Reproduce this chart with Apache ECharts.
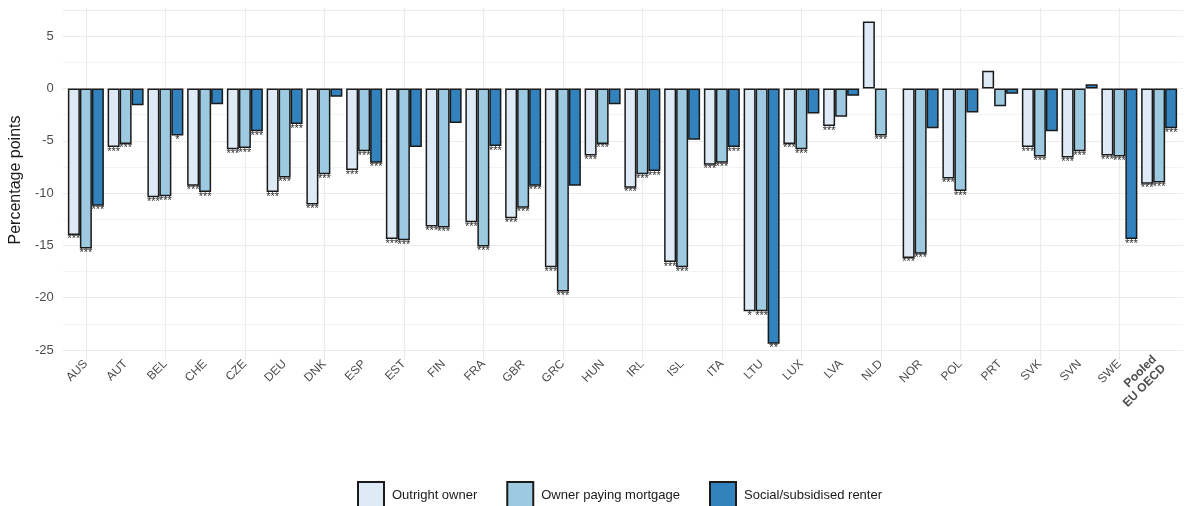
<!DOCTYPE html>
<html>
<head>
<meta charset="utf-8">
<script src="https://cdn.jsdelivr.net/npm/echarts@6/dist/echarts.min.js"></script>
<style>
  html, body { margin: 0; padding: 0; background: #ffffff; }
  #chart { width: 1198px; height: 506px; }
</style>
</head>
<body>
<div id="chart"></div>
<script>
// Countries (ISO3) plus the pooled EU/OECD estimate
const categories = ['AUS','AUT','BEL','CHE','CZE','DEU','DNK','ESP','EST','FIN','FRA','GBR','GRC','HUN','IRL','ISL','ITA','LTU','LUX','LVA','NLD','NOR','POL','PRT','SVK','SVN','SWE','Pooled\nEU OECD'];

// Difference in percentage points by housing tenure
const outrightOwner = [-14.0,-5.6,-10.4,-9.3,-5.8,-9.9,-11.1,-7.8,-14.4,-13.2,-12.8,-12.4,-17.1,-6.4,-9.5,-16.6,-7.3,-21.3,-5.3,-3.6,6.4,-16.2,-8.6,1.7,-5.6,-6.6,-6.4,-9.1];
const ownerMortgage = [-15.3,-5.3,-10.3,-9.9,-5.7,-8.5,-8.2,-6.0,-14.5,-13.3,-15.1,-11.4,-19.4,-5.3,-8.2,-17.1,-7.1,-21.3,-5.8,-2.7,-4.5,-15.8,-9.8,-1.7,-6.5,-6.0,-6.5,-9.0];
const socialRenter  = [-11.2,-1.6,-4.5,-1.5,-4.1,-3.4,-0.8,-7.1,-5.6,-3.3,-5.5,-9.3,-9.3,-1.5,-7.9,-4.9,-5.6,-24.4,-2.4,-0.7,null,-3.8,-2.3,-0.5,-4.1,0.4,-14.4,-3.8];

// Significance markers
const starsOutright = ['***','***','***','***','***','***','***','***','***','***','***','***','***','***','***','***','***','*','***','***','','***','***','','***','***','***','***'];
const starsMortgage = ['***','***','***','***','***','***','***','***','***','***','***','***','***','***','***','***','***','***','***','','***','***','***','','***','***','***','***'];
const starsSocial   = ['***','','*','','***','***','','***','','','***','***','','','***','','***','**','','','','','','','','','***','***'];

// y-axis ticks
const yMin = -25, yMax = 7.5, yStep = 5;

const seriesNames = ['Outright owner', 'Owner paying mortgage', 'Social/subsidised renter'];
const seriesColors = ['#deebf7', '#9ecae1', '#3182bd'];
const seriesValues = [outrightOwner, ownerMortgage, socialRenter];
const seriesStars = [starsOutright, starsMortgage, starsSocial];

const FONT = '"Liberation Sans", Arial, Helvetica, sans-serif';

const chart = echarts.init(document.getElementById('chart'), null, { renderer: 'canvas' });

const series = seriesNames.map((name, k) => ({
  name: name,
  type: 'bar',
  xAxisIndex: 0,
  yAxisIndex: 0,
  data: seriesValues[k],
  barWidth: 12,
  barGap: '0%',
  itemStyle: { color: seriesColors[k], borderColor: '#1a1a1a', borderWidth: 1.5 },
  label: {
    show: true,
    position: 'outside',
    distance: -1,
    formatter: (p) => seriesStars[k][p.dataIndex] || '',
    fontFamily: FONT,
    fontSize: 11,
    lineHeight: 11,
    color: '#2a2a2a'
  },
  emphasis: { disabled: true },
  z: 3
}));

chart.setOption({
  animation: false,
  backgroundColor: '#ffffff',
  textStyle: { fontFamily: FONT },
  grid: [
    { left: 66, right: 19, top: 10, bottom: 156 },   // bars
    { left: 62, right: 15, top: 10, bottom: 156 },   // horizontal grid + y labels
    { left: 66, right: 19, top: 8, bottom: 146 }     // vertical grid
  ],
  xAxis: [
    {
      type: 'category', gridIndex: 0, data: categories,
      axisLine: { show: false }, axisTick: { show: false }, splitLine: { show: false },
      axisLabel: {
        rotate: 45, margin: 12, fontFamily: FONT, fontSize: 12, color: '#4d4d4d',
        formatter: (v) => v.indexOf('\n') >= 0 ? '{b|' + v.replace('\n', '}\n{b|') + '}' : v,
        rich: { b: { fontWeight: 'bold', fontSize: 12, color: '#4d4d4d', fontFamily: FONT, lineHeight: 13 } }
      }
    },
    { type: 'value', gridIndex: 1, show: false },
    {
      type: 'category', gridIndex: 2, data: categories,
      axisLine: { show: false }, axisLabel: { show: false }, splitLine: { show: false },
      axisTick: { show: true, inside: true, length: 352, alignWithLabel: true, lineStyle: { color: '#ebebeb', width: 1.1 } }
    }
  ],
  yAxis: [
    { type: 'value', gridIndex: 0, min: yMin, max: yMax, show: false },
    {
      type: 'value', gridIndex: 1, min: yMin, max: yMax, interval: yStep,
      name: 'Percentage points', nameLocation: 'middle', nameGap: 32,
      nameTextStyle: { fontFamily: FONT, fontSize: 16, color: '#1a1a1a' },
      axisLine: { show: false }, axisTick: { show: false },
      axisLabel: { margin: 9, fontFamily: FONT, fontSize: 13, color: '#4d4d4d', showMaxLabel: false },
      splitLine: { show: true, lineStyle: { color: '#ebebeb', width: 1.1 } },
      minorTick: { show: false, splitNumber: 2 },
      minorSplitLine: { show: true, lineStyle: { color: '#f3f3f3', width: 1 } }
    },
    { type: 'value', gridIndex: 2, show: false }
  ],
  legend: {
    data: seriesNames,
    top: 481, left: 357, padding: 0,
    itemWidth: 26, itemHeight: 26, itemGap: 29,
    icon: 'rect',
    textStyle: { fontFamily: FONT, fontSize: 13, color: '#1a1a1a', padding: [0, 0, 0, 3] }
  },
  series: series
});
</script>
</body>
</html>
